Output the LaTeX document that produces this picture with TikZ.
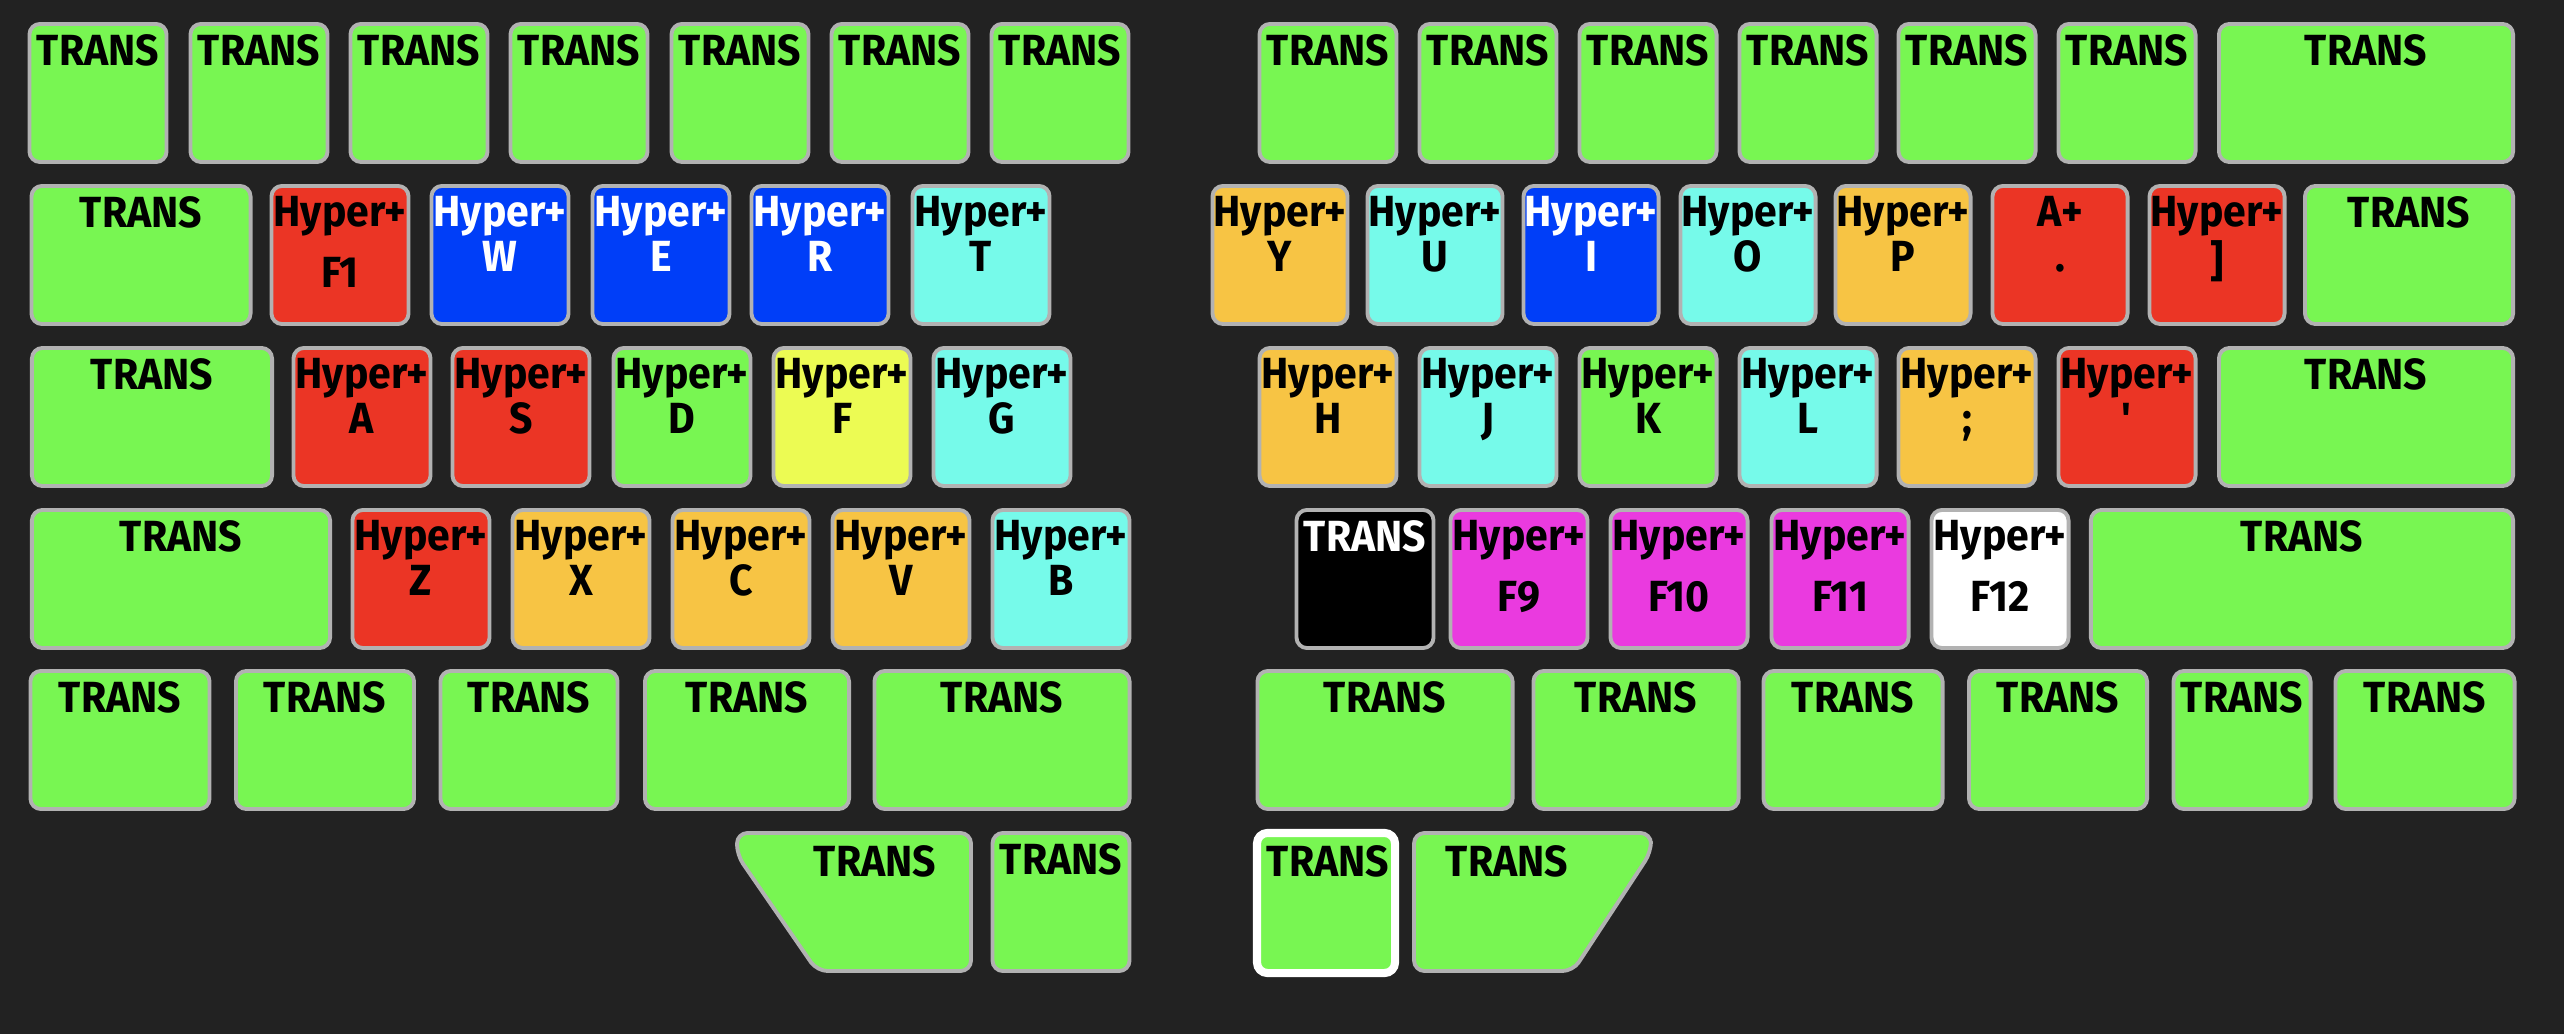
\documentclass[tikz,border=0pt]{standalone}
\usepackage{fontspec}
\usepackage{tikz}
\usetikzlibrary{positioning}
\newfontfamily\keyfont[FakeStretch=0.94]{Fira Sans}
\definecolor{BoardGrey}{RGB}{34,34,34}
\definecolor{RimGrey}{RGB}{178,178,178}
\definecolor{KeyGreen}{RGB}{120,246,82}
\definecolor{KeyRed}{RGB}{235,53,37}
\definecolor{KeyBlue}{RGB}{0,62,248}
\definecolor{KeyCyan}{RGB}{118,250,234}
\definecolor{KeyOrange}{RGB}{247,196,68}
\definecolor{KeyYellow}{RGB}{236,251,83}
\definecolor{KeyPink}{RGB}{234,58,223}

\begin{document}
\begin{tikzpicture}[x=0.01cm,y=-0.01cm,
    keyface/.style={draw=RimGrey,line width=1.1pt,rounded corners=3pt,fill=KeyGreen},
    key/.style={keyface,minimum width=1.37cm,minimum height=1.38cm,inner sep=0pt},
    lbl/.style={font=\keyfont\bfseries\fontsize{12.4}{12.8}\selectfont,inner sep=0pt,align=center}]
      \fill[BoardGrey] (0,0) rectangle (2564,1034);
      \useasboundingbox (0,0) rectangle (2564,1034);
      % left half
      \node[key] (l1a) at (98,93) {};    \node[lbl,below=0.12cm of l1a.north] (l1a-t) {TRANS};
      \node[key] (l1b) at (259,93) {};   \node[lbl,below=0.12cm of l1b.north] (l1b-t) {TRANS};
      \node[key] (l1c) at (419,93) {};   \node[lbl,below=0.12cm of l1c.north] (l1c-t) {TRANS};
      \node[key] (l1d) at (579,93) {};   \node[lbl,below=0.12cm of l1d.north] (l1d-t) {TRANS};
      \node[key] (l1e) at (740,93) {};   \node[lbl,below=0.12cm of l1e.north] (l1e-t) {TRANS};
      \node[key] (l1f) at (900,93) {};   \node[lbl,below=0.12cm of l1f.north] (l1f-t) {TRANS};
      \node[key] (l1g) at (1060,93) {};  \node[lbl,below=0.12cm of l1g.north] (l1g-t) {TRANS};
      \node[key,minimum width=2.19cm] (l2a) at (141,255) {}; \node[lbl,below=0.12cm of l2a.north] (l2a-t) {TRANS};
      \node[key,fill=KeyRed] (l2b) at (340,255) {};    \node[lbl,below=0.12cm of l2b.north] (l2b-t) {Hyper+\\[4.3pt]F1};
      \node[key,fill=KeyBlue] (l2c) at (500,255) {};   \node[lbl,text=white,below=0.12cm of l2c.north] (l2c-t) {Hyper+\\W};
      \node[key,fill=KeyBlue] (l2d) at (661,255) {};   \node[lbl,text=white,below=0.12cm of l2d.north] (l2d-t) {Hyper+\\E};
      \node[key,fill=KeyBlue] (l2e) at (820,255) {};   \node[lbl,text=white,below=0.12cm of l2e.north] (l2e-t) {Hyper+\\R};
      \node[key,fill=KeyCyan] (l2f) at (981,255) {};   \node[lbl,below=0.12cm of l2f.north] (l2f-t) {Hyper+\\T};
      \node[key,minimum width=2.40cm] (l3a) at (152,417) {}; \node[lbl,below=0.12cm of l3a.north] (l3a-t) {TRANS};
      \node[key,fill=KeyRed] (l3b) at (362,417) {};    \node[lbl,below=0.12cm of l3b.north] (l3b-t) {Hyper+\\A};
      \node[key,fill=KeyRed] (l3c) at (521,417) {};    \node[lbl,below=0.12cm of l3c.north] (l3c-t) {Hyper+\\S};
      \node[key] (l3d) at (682,417) {};                \node[lbl,below=0.12cm of l3d.north] (l3d-t) {Hyper+\\D};
      \node[key,fill=KeyYellow] (l3e) at (842,417) {}; \node[lbl,below=0.12cm of l3e.north] (l3e-t) {Hyper+\\F};
      \node[key,fill=KeyCyan] (l3f) at (1002,417) {};  \node[lbl,below=0.12cm of l3f.north] (l3f-t) {Hyper+\\G};
      \node[key,minimum width=2.98cm] (l4a) at (181,579) {}; \node[lbl,below=0.12cm of l4a.north] (l4a-t) {TRANS};
      \node[key,fill=KeyRed] (l4b) at (421,579) {};    \node[lbl,below=0.12cm of l4b.north] (l4b-t) {Hyper+\\Z};
      \node[key,fill=KeyOrange] (l4c) at (581,579) {}; \node[lbl,below=0.12cm of l4c.north] (l4c-t) {Hyper+\\X};
      \node[key,fill=KeyOrange] (l4d) at (741,579) {}; \node[lbl,below=0.12cm of l4d.north] (l4d-t) {Hyper+\\C};
      \node[key,fill=KeyOrange] (l4e) at (901,579) {}; \node[lbl,below=0.12cm of l4e.north] (l4e-t) {Hyper+\\V};
      \node[key,fill=KeyCyan] (l4f) at (1061,579) {};  \node[lbl,below=0.12cm of l4f.north] (l4f-t) {Hyper+\\B};
      \node[key,minimum width=1.79cm] (l5a) at (120,740) {};  \node[lbl,below=0.12cm of l5a.north] (l5a-t) {TRANS};
      \node[key,minimum width=1.78cm] (l5b) at (325,740) {};  \node[lbl,below=0.12cm of l5b.north] (l5b-t) {TRANS};
      \node[key,minimum width=1.77cm] (l5c) at (529,740) {};  \node[lbl,below=0.12cm of l5c.north] (l5c-t) {TRANS};
      \node[key,minimum width=2.04cm] (l5d) at (747,740) {};  \node[lbl,below=0.12cm of l5d.north] (l5d-t) {TRANS};
      \node[key,minimum width=2.55cm] (l5e) at (1002,740) {}; \node[lbl,below=0.12cm of l5e.north] (l5e-t) {TRANS};
      \draw[keyface] (737,833) -- (971,833) -- (971,971) -- (817,971) -- (737,855) -- cycle;
      \node[lbl,anchor=north] (l6a-t) at (875,845) {TRANS};
      \node[key] (l6b) at (1061,902) {};  \node[lbl,below=0.12cm of l6b.north] (l6b-t) {TRANS};
      % right half
      \node[key] (r1a) at (1328,93) {};  \node[lbl,below=0.12cm of r1a.north] (r1a-t) {TRANS};
      \node[key] (r1b) at (1488,93) {};  \node[lbl,below=0.12cm of r1b.north] (r1b-t) {TRANS};
      \node[key] (r1c) at (1648,93) {};  \node[lbl,below=0.12cm of r1c.north] (r1c-t) {TRANS};
      \node[key] (r1d) at (1808,93) {};  \node[lbl,below=0.12cm of r1d.north] (r1d-t) {TRANS};
      \node[key] (r1e) at (1967,93) {};  \node[lbl,below=0.12cm of r1e.north] (r1e-t) {TRANS};
      \node[key] (r1f) at (2127,93) {};  \node[lbl,below=0.12cm of r1f.north] (r1f-t) {TRANS};
      \node[key,minimum width=2.94cm] (r1g) at (2366,93) {}; \node[lbl,below=0.12cm of r1g.north] (r1g-t) {TRANS};
      \node[key,fill=KeyOrange,minimum width=1.35cm] (r2a) at (1280,255) {}; \node[lbl,below=0.12cm of r2a.north] (r2a-t) {Hyper+\\Y};
      \node[key,fill=KeyCyan,minimum width=1.35cm] (r2b) at (1435,255) {};   \node[lbl,below=0.12cm of r2b.north] (r2b-t) {Hyper+\\U};
      \node[key,fill=KeyBlue,minimum width=1.35cm] (r2c) at (1591,255) {};   \node[lbl,text=white,below=0.12cm of r2c.north] (r2c-t) {Hyper+\\I};
      \node[key,fill=KeyCyan,minimum width=1.35cm] (r2d) at (1748,255) {};   \node[lbl,below=0.12cm of r2d.north] (r2d-t) {Hyper+\\O};
      \node[key,fill=KeyOrange,minimum width=1.35cm] (r2e) at (1903,255) {}; \node[lbl,below=0.12cm of r2e.north] (r2e-t) {Hyper+\\P};
      \node[key,fill=KeyRed,minimum width=1.35cm] (r2f) at (2060,255) {};    \node[lbl,below=0.12cm of r2f.north] (r2f-t) {A+\\.};
      \node[key,fill=KeyRed,minimum width=1.35cm] (r2g) at (2217,255) {};    \node[lbl,below=0.12cm of r2g.north] (r2g-t) {Hyper+\\]};
      \node[key,minimum width=2.08cm] (r2h) at (2409,255) {}; \node[lbl,below=0.12cm of r2h.north] (r2h-t) {TRANS};
      \node[key,fill=KeyOrange] (r3a) at (1328,417) {}; \node[lbl,below=0.12cm of r3a.north] (r3a-t) {Hyper+\\H};
      \node[key,fill=KeyCyan] (r3b) at (1488,417) {};   \node[lbl,below=0.12cm of r3b.north] (r3b-t) {Hyper+\\J};
      \node[key] (r3c) at (1648,417) {};                \node[lbl,below=0.12cm of r3c.north] (r3c-t) {Hyper+\\K};
      \node[key,fill=KeyCyan] (r3d) at (1808,417) {};   \node[lbl,below=0.12cm of r3d.north] (r3d-t) {Hyper+\\L};
      \node[key,fill=KeyOrange] (r3e) at (1967,417) {}; \node[lbl,below=0.12cm of r3e.north] (r3e-t) {Hyper+\\;};
      \node[key,fill=KeyRed] (r3f) at (2127,417) {};    \node[lbl,below=0.12cm of r3f.north] (r3f-t) {Hyper+\\\textquotesingle};
      \node[key,minimum width=2.94cm] (r3g) at (2366,417) {}; \node[lbl,below=0.12cm of r3g.north] (r3g-t) {TRANS};
      \node[key,fill=black] (r4a) at (1365,579) {};    \node[lbl,text=white,below=0.12cm of r4a.north] (r4a-t) {TRANS};
      \node[key,fill=KeyPink] (r4b) at (1519,579) {};  \node[lbl,below=0.12cm of r4b.north] (r4b-t) {Hyper+\\[4.3pt]F9};
      \node[key,fill=KeyPink] (r4c) at (1679,579) {};  \node[lbl,below=0.12cm of r4c.north] (r4c-t) {Hyper+\\[4.3pt]F10};
      \node[key,fill=KeyPink] (r4d) at (1840,579) {};  \node[lbl,below=0.12cm of r4d.north] (r4d-t) {Hyper+\\[4.3pt]F11};
      \node[key,fill=white] (r4e) at (2000,579) {};    \node[lbl,below=0.12cm of r4e.north] (r4e-t) {Hyper+\\[4.3pt]F12};
      \node[key,minimum width=4.22cm] (r4f) at (2302,579) {}; \node[lbl,below=0.12cm of r4f.north] (r4f-t) {TRANS};
      \node[key,minimum width=2.55cm] (r5a) at (1385,740) {}; \node[lbl,below=0.12cm of r5a.north] (r5a-t) {TRANS};
      \node[key,minimum width=2.05cm] (r5b) at (1636,740) {}; \node[lbl,below=0.12cm of r5b.north] (r5b-t) {TRANS};
      \node[key,minimum width=1.79cm] (r5c) at (1853,740) {}; \node[lbl,below=0.12cm of r5c.north] (r5c-t) {TRANS};
      \node[key,minimum width=1.78cm] (r5d) at (2058,740) {}; \node[lbl,below=0.12cm of r5d.north] (r5d-t) {TRANS};
      \node[key] (r5e) at (2242,740) {};                      \node[lbl,below=0.12cm of r5e.north] (r5e-t) {TRANS};
      \node[key,minimum width=1.79cm] (r5f) at (2425,740) {}; \node[lbl,below=0.12cm of r5f.north] (r5f-t) {TRANS};
      \node[key,draw=white,line width=2.3pt,minimum width=1.38cm,minimum height=1.40cm] (r6a) at (1326,903) {};
      \node[lbl,anchor=north] (r6a-t) at (1328,845) {TRANS};
      \draw[keyface] (1414,833) -- (1651,833) -- (1651,852) -- (1573,971) -- (1414,971) -- cycle;
      \node[lbl,anchor=north] (r6b-t) at (1507,845) {TRANS};
    \end{tikzpicture}
\end{document}
